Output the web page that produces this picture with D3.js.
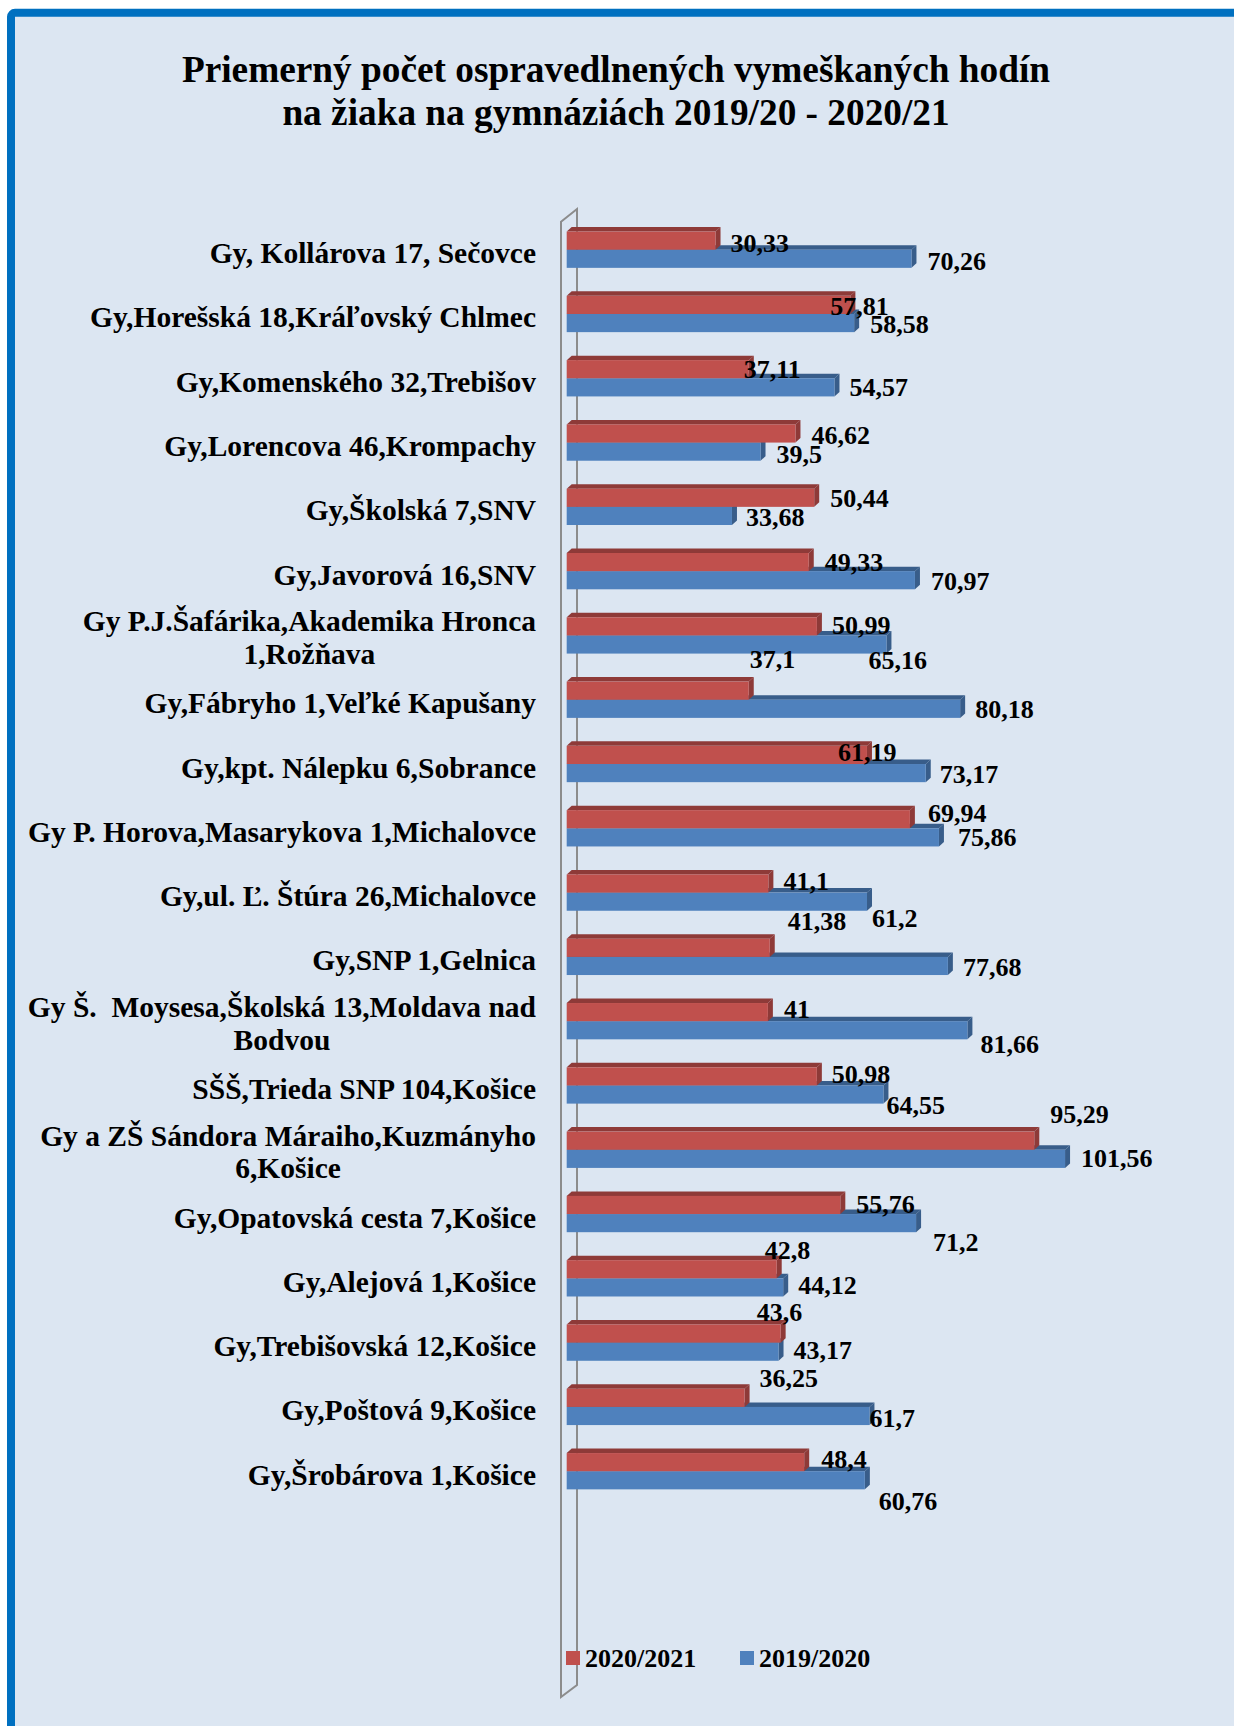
<!DOCTYPE html>
<html>
<head>
<meta charset="utf-8">
<script src="https://cdn.jsdelivr.net/npm/d3@7"></script>
<style>
    body { margin: 0; background: #fff; }
    text { font-family: "Liberation Serif", "Times New Roman", serif; font-weight: bold; fill: #000; white-space: pre; }
</style>
</head>
<body>
<svg id="chart" width="1234" height="1726"></svg>
<script>
// Chart data
const categories = [
    "Gy, Kollárova 17, Sečovce",
    "Gy,Horešská 18,Kráľovský Chlmec",
    "Gy,Komenského 32,Trebišov",
    "Gy,Lorencova 46,Krompachy",
    "Gy,Školská 7,SNV",
    "Gy,Javorová 16,SNV",
    "Gy P.J.Šafárika,Akademika Hronca\n1,Rožňava",
    "Gy,Fábryho 1,Veľké Kapušany",
    "Gy,kpt. Nálepku 6,Sobrance",
    "Gy P. Horova,Masarykova 1,Michalovce",
    "Gy,ul. Ľ. Štúra 26,Michalovce",
    "Gy,SNP 1,Gelnica",
    "Gy Š.  Moysesa,Školská 13,Moldava nad\nBodvou",
    "SŠŠ,Trieda SNP 104,Košice",
    "Gy a ZŠ Sándora Máraiho,Kuzmányho\n6,Košice",
    "Gy,Opatovská cesta 7,Košice",
    "Gy,Alejová 1,Košice",
    "Gy,Trebišovská 12,Košice",
    "Gy,Poštová 9,Košice",
    "Gy,Šrobárova 1,Košice"
];
const values2021 = [30.33, 57.81, 37.11, 46.62, 50.44, 49.33, 50.99, 37.1, 61.19, 69.94,
                    41.1, 41.38, 41, 50.98, 95.29, 55.76, 42.8, 43.6, 36.25, 48.4];
const values2020 = [70.26, 58.58, 54.57, 39.5, 33.68, 70.97, 65.16, 80.18, 73.17, 75.86,
                    61.2, 77.68, 81.66, 64.55, 101.56, 71.2, 44.12, 43.17, 61.7, 60.76];
const seriesNames = ["2020/2021", "2019/2020"];

// Excel placed some value labels away from their bars: [dx, dy] from the default spot
const redLabelShift = [[0,2],[-35,1],[-20,0],[1,1],[1,0],[1,0],[0,-1],[-14,-32],[-44,-3],[3,-6],
                       [0,-3],[3,-27],[1,-3],[0,-2],[1,-27],[1,-1],[-27,-19],[-39,-22],[0,-20],[2,-3]];
const blueLabelShift = [[1,2],[1,1],[0,0],[1,2],[-1,1],[1,1],[-33,15],[0,0],[-1,1],[4,0],
                        [-10,16],[0,1],[-2,14],[-12,10],[1,-1],[2,19],[0,-2],[0,-2],[-15,2],[-1,21]];

const colors = {
    red: { front: "#C0504D", dark: "#8E3A38" },
    blue: { front: "#4F81BD", dark: "#385D8A" }
};

const svg = d3.select("#chart");
const W = 1234, H = 1726;

// Frame: blue border on top and left, the rest is cut off
svg.append("rect")
    .attr("x", 11).attr("y", 12.8)
    .attr("width", W + 40).attr("height", H + 40)
    .attr("rx", 4)
    .attr("fill", "#DCE6F2")
    .attr("stroke", "#0070C0")
    .attr("stroke-width", 8);

// Title
const title = svg.append("text")
    .attr("text-anchor", "middle")
    .style("font-size", "37.3px");
title.append("tspan").attr("x", 616).attr("y", 81.7)
    .text("Priemerný počet ospravedlnených vymeškaných hodín");
title.append("tspan").attr("x", 616).attr("y", 125)
    .text("na žiaka na gymnáziách 2019/20 - 2020/21");

// Layout
const plotLeft = 566.7;
const step = 64.29;
const bandTop = 217.55;
const depth = { x: 5, y: 4.5 };
const wallTop = 209, wallBottom = 1697;

const x = d3.scaleLinear().domain([0, 120]).range([plotLeft, plotLeft + 120 * 4.907]);
const y = d3.scaleBand()
    .domain(categories)
    .range([bandTop, bandTop + step * categories.length])
    .paddingInner(1 - 36.3 / step)
    .paddingOuter((1 - 36.3 / step) / 2);
const ySeries = d3.scaleBand().domain(seriesNames).range([0, y.bandwidth()]);

// 3D wall
svg.append("path")
    .attr("d", d3.line()([
        [plotLeft - 5.7, wallTop + 12.7],
        [plotLeft + 10.3, wallTop],
        [plotLeft + 10.3, wallBottom - 12],
        [plotLeft - 5.7, wallBottom]
    ]) + "Z")
    .attr("fill", "none")
    .attr("stroke", "#8C8C8C")
    .attr("stroke-width", 2);

// Bars with top and side faces
function drawBar(g, v, top, h, col) {
    const x0 = x(0), x1 = x(v);
    g.append("path")
        .attr("d", d3.line()([[x0, top], [x0 + depth.x, top - depth.y], [x1 + depth.x, top - depth.y], [x1, top]]) + "Z")
        .attr("fill", col.dark);
    g.append("path")
        .attr("d", d3.line()([[x1, top], [x1 + depth.x, top - depth.y], [x1 + depth.x, top + h - depth.y], [x1, top + h]]) + "Z")
        .attr("fill", col.dark);
    g.append("rect")
        .attr("x", x0).attr("y", top)
        .attr("width", x1 - x0).attr("height", h)
        .attr("fill", col.front);
}

const bars = svg.append("g");
categories.forEach((c, i) => {
    const g = bars.append("g");
    drawBar(g, values2020[i], y(c) + ySeries(seriesNames[1]), ySeries.bandwidth(), colors.blue);
    drawBar(g, values2021[i], y(c) + ySeries(seriesNames[0]), ySeries.bandwidth(), colors.red);
});

// Value labels
const fmt = v => String(v).replace(".", ",");
const labels = svg.append("g").style("font-size", "26px");
categories.forEach((c, i) => {
    const redBottom = y(c) + ySeries(seriesNames[0]) + ySeries.bandwidth();
    const blueBottom = y(c) + ySeries(seriesNames[1]) + ySeries.bandwidth();
    labels.append("text")
        .attr("x", x(values2021[i]) + 15 + redLabelShift[i][0])
        .attr("y", redBottom + redLabelShift[i][1])
        .text(fmt(values2021[i]));
    labels.append("text")
        .attr("x", x(values2020[i]) + 15 + blueLabelShift[i][0])
        .attr("y", blueBottom + blueLabelShift[i][1])
        .text(fmt(values2020[i]));
});

// Category labels: right aligned block, lines centred on each other
const labelRight = 536;
const catG = svg.append("g").style("font-size", "29.5px");
categories.forEach(c => {
    const lines = c.split("\n");
    const mid = y(c) + y.bandwidth() / 2;
    const t = catG.append("text").attr("text-anchor", "middle");
    const spans = lines.map((line, k) => t.append("tspan")
        .attr("y", lines.length === 1 ? mid + 13.5 : mid - 4 + k * 32.5)
        .text(line));
    const maxW = d3.max(spans, s => s.node().getComputedTextLength());
    spans.forEach(s => s.attr("x", labelRight - maxW / 2));
});

// Legend
const legend = svg.append("g").style("font-size", "26px");
const legendX = [566, 740];
seriesNames.forEach((name, k) => {
    legend.append("rect")
        .attr("x", legendX[k]).attr("y", 1651)
        .attr("width", 14).attr("height", 14)
        .attr("fill", k === 0 ? colors.red.front : colors.blue.front);
    legend.append("text")
        .attr("x", legendX[k] + 19).attr("y", 1667)
        .text(name);
});
</script>
</body>
</html>
